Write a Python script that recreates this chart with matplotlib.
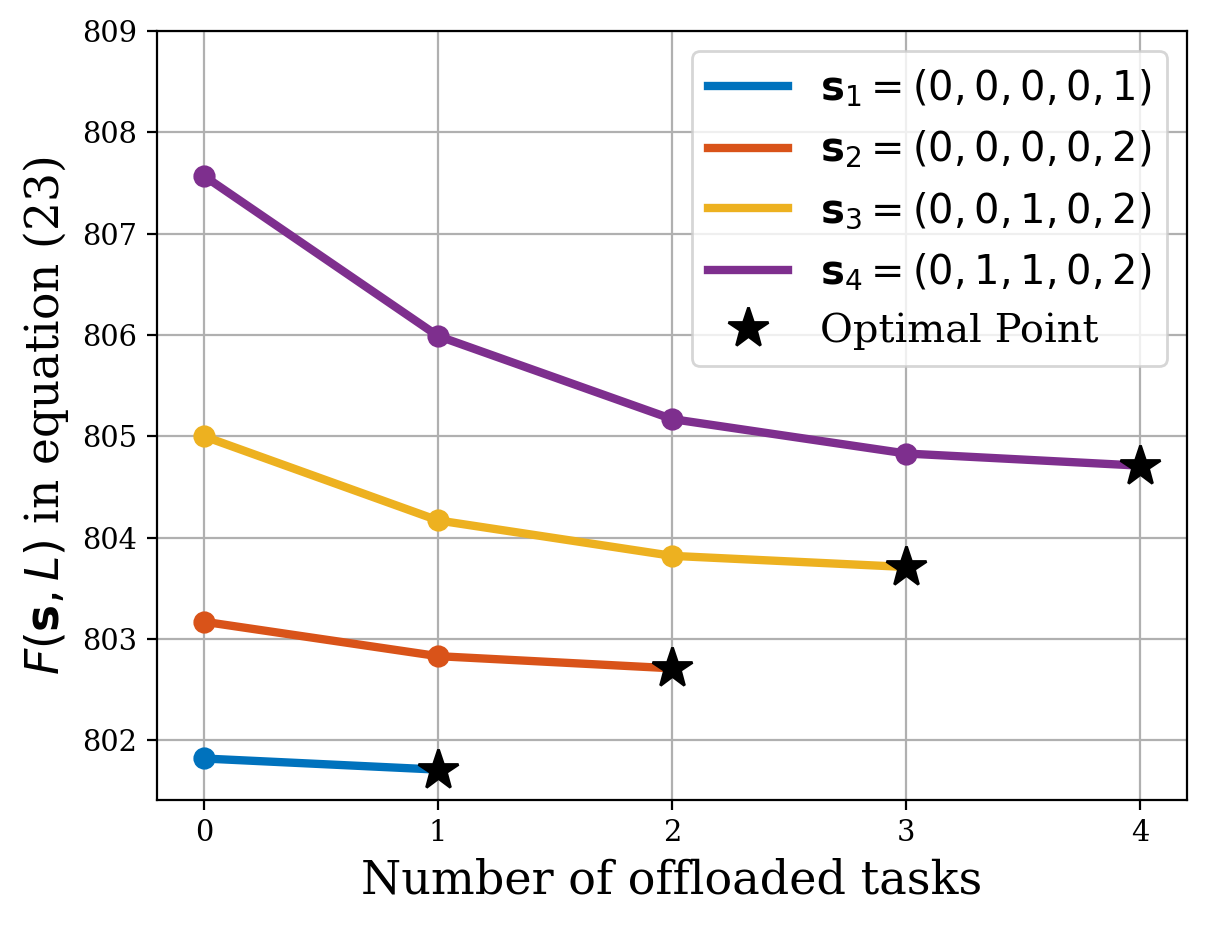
import numpy as np
import matplotlib
matplotlib.use("Agg")
import matplotlib.pyplot as plt

plt.rcParams['font.family'] = 'DejaVu Serif'
plt.rcParams['mathtext.fontset'] = 'dejavusans'

# values
tasks = [0, 1, 2, 3, 4]
F_s1 = [801.82, 801.71]
F_s2 = [803.17, 802.83, 802.71]
F_s3 = [805.00, 804.17, 803.82, 803.71]
F_s4 = [807.57, 805.99, 805.17, 804.83, 804.71]

labels = [r"$\mathbf{s}_1=(0,0,0,0,1)$",
          r"$\mathbf{s}_2=(0,0,0,0,2)$",
          r"$\mathbf{s}_3=(0,0,1,0,2)$",
          r"$\mathbf{s}_4=(0,1,1,0,2)$"]
colors = ["#0072BD", "#D95319", "#EDB120", "#7E2F8E"]

fig = plt.figure(figsize=(6.04, 4.625), dpi=200)
ax = fig.add_axes([0.130, 0.1351, 0.8526, 0.8314])

series = [F_s1, F_s2, F_s3, F_s4]
for F, lab, col in zip(series, labels, colors):
    x = tasks[:len(F)]
    # last point is covered by the star, so no circle there
    ax.plot(x, F, "-o", color=col, lw=3, ms=7, markevery=slice(0, len(F) - 1), label=lab)

opt_x = [len(F) - 1 for F in series]
opt_y = [F[-1] for F in series]
ax.plot(opt_x, opt_y, "*", color="black", ms=15, ls="none", label="Optimal Point", zorder=5)

ax.set_xlim(-0.2, 4.2)
ax.set_ylim(801.41, 809)
ax.set_xticks(tasks)
ax.set_yticks([802, 803, 804, 805, 806, 807, 808, 809])
ax.tick_params(labelsize=10.4)
ax.grid(True)
ax.set_xlabel("Number of offloaded tasks", fontsize=16.6)
ax.set_ylabel(r"$F(\mathbf{s},L)$ in equation (23)", fontsize=16.4)

leg = ax.legend(loc="upper right", fontsize=14.4)
for h in leg.legend_handles[:4]:
    h.set_marker("")

plt.savefig("out.png", dpi=200)
